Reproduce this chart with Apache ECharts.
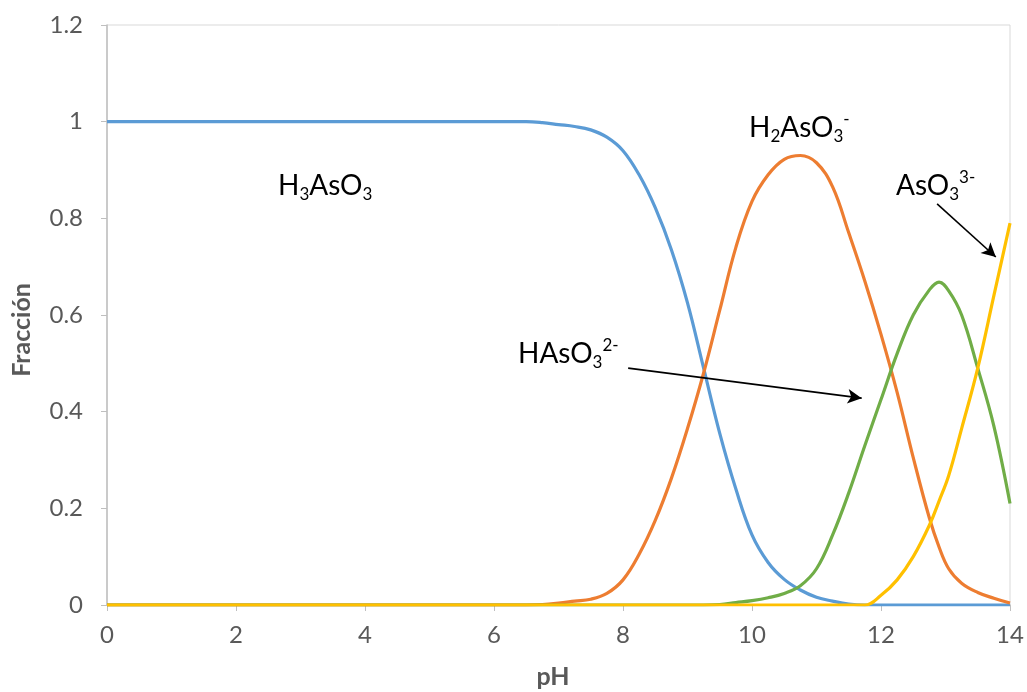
<!DOCTYPE html>
<html>
<head>
<meta charset="utf-8">
<script src="https://cdn.jsdelivr.net/npm/echarts@6/dist/echarts.min.js"></script>
<style>
  html, body { margin: 0; padding: 0; background: #fff; }
  #chart { width: 1027px; height: 692px; }
</style>
</head>
<body>
<div id="chart"></div>
<script>
// Speciation of arsenous acid vs pH
const pH = [0, 1, 2, 3, 4, 5, 6, 6.5, 6.75, 7, 7.25, 7.5, 7.75, 8, 8.25, 8.5, 8.75, 9, 9.25, 9.5,
            9.75, 10, 10.25, 10.5, 10.75, 11, 11.25, 11.5, 11.75, 12, 12.25, 12.5, 12.75, 12.9, 13.05, 13.25, 13.5, 13.75, 14];

const fH3AsO3 = [1, 1, 1, 1, 1, 1, 1, 1, 0.998, 0.994, 0.99, 0.983, 0.968, 0.94, 0.89, 0.822, 0.735, 0.625, 0.49, 0.355,
                 0.24, 0.145, 0.088, 0.053, 0.031, 0.016, 0.008, 0.002, 0, 0, 0, 0, 0, 0, 0, 0, 0, 0, 0];

const fH2AsO3 = [0, 0, 0, 0, 0, 0, 0, 0, 0.001, 0.004, 0.008, 0.012, 0.024, 0.052, 0.105, 0.175, 0.262, 0.365, 0.48, 0.61,
                 0.74, 0.835, 0.89, 0.922, 0.93, 0.915, 0.865, 0.77, 0.67, 0.56, 0.44, 0.305, 0.18, 0.12, 0.075, 0.045, 0.026, 0.014, 0.004];

const fHAsO3 = [0, 0, 0, 0, 0, 0, 0, 0, 0, 0, 0, 0, 0, 0, 0, 0, 0, 0, 0, 0.001,
                0.005, 0.009, 0.015, 0.024, 0.04, 0.075, 0.145, 0.232, 0.33, 0.425, 0.52, 0.6, 0.652, 0.668, 0.65, 0.6, 0.49, 0.37, 0.21];

const fAsO3 = [0, 0, 0, 0, 0, 0, 0, 0, 0, 0, 0, 0, 0, 0, 0, 0, 0, 0, 0, 0,
               0, 0, 0, 0, 0, 0, 0, 0, 0, 0.02, 0.052, 0.1, 0.165, 0.215, 0.268, 0.365, 0.49, 0.64, 0.79];

const xTicks = { min: 0, max: 14, interval: 2 };
const yTicks = { min: 0, max: 1.2, interval: 0.2 };

// Arrow pointers [from, to] in (pH, fraction)
const arrowHAsO3 = [[8.08, 0.49], [11.7, 0.428]];
const arrowAsO3 = [[12.87, 0.83], [13.78, 0.72]];

const colors = ['#5B9BD5', '#ED7D31', '#70AD47', '#FFC000'];
const FONT = 'Lato, "Open Sans", sans-serif';
const pairs = arr => pH.map((x, i) => [x, arr[i]]);

const richStyles = {
  m: { fontFamily: FONT, fontSize: 28, lineHeight: 34, color: '#000', verticalAlign: 'middle' },
  sub: { fontFamily: FONT, fontSize: 17, lineHeight: 17, color: '#000', verticalAlign: 'bottom' },
  sup: { fontFamily: FONT, fontSize: 17, lineHeight: 18, color: '#000', verticalAlign: 'top' }
};

function speciesLabel(text, x, y) {
  return {
    type: 'text', x: x, y: y, silent: true,
    style: { text: text, align: 'left', verticalAlign: 'middle', rich: richStyles,
             fontFamily: FONT, fontSize: 28, fill: '#000' }
  };
}

function lineSeries(name, data, color, z) {
  return {
    name: name, type: 'line', data: pairs(data), smooth: 0.4, symbol: 'none', z: z,
    lineStyle: { color: color, width: 3.2 }, itemStyle: { color: color }
  };
}

const chart = echarts.init(document.getElementById('chart'), null, { renderer: 'canvas' });

const series = [
  lineSeries('H3AsO3', fH3AsO3, colors[0], 2),
  lineSeries('H2AsO3-', fH2AsO3, colors[1], 3),
  lineSeries('HAsO3 2-', fHAsO3, colors[2], 4),
  lineSeries('AsO3 3-', fAsO3, colors[3], 5)
];
series[3].markLine = {
  silent: true, symbol: ['none', 'arrow'], symbolSize: [11, 14], animation: false,
  label: { show: false },
  lineStyle: { color: '#000', width: 1.6, type: 'solid' },
  data: [
    [{ coord: arrowHAsO3[0] }, { coord: arrowHAsO3[1] }],
    [{ coord: arrowAsO3[0] }, { coord: arrowAsO3[1] }]
  ]
};

chart.setOption({
  animation: false,
  backgroundColor: '#fff',
  grid: { left: 107, right: 17, top: 25, bottom: 87, show: true, borderColor: '#D9D9D9', borderWidth: 1 },
  xAxis: {
    type: 'value', min: xTicks.min, max: xTicks.max, interval: xTicks.interval,
    axisLine: { show: true, lineStyle: { color: '#BFBFBF', width: 1.5 } },
    axisTick: { show: true, length: 6, lineStyle: { color: '#BFBFBF' } },
    splitLine: { show: false },
    axisLabel: { color: '#595959', fontFamily: FONT, fontSize: 24, margin: 18 }
  },
  yAxis: {
    type: 'value', min: yTicks.min, max: yTicks.max, interval: yTicks.interval,
    axisLine: { show: true, lineStyle: { color: '#BFBFBF', width: 1.5 } },
    axisTick: { show: true, length: 6, lineStyle: { color: '#BFBFBF' } },
    splitLine: { show: false },
    axisLabel: { color: '#595959', fontFamily: FONT, fontSize: 24, margin: 24 }
  },
  graphic: [
    { type: 'text', x: 22, y: 330, rotation: Math.PI / 2, silent: true,
      style: { text: 'Fracción', align: 'center', verticalAlign: 'middle', fill: '#595959',
               fontFamily: FONT, fontSize: 25, fontWeight: 'bold' } },
    { type: 'text', x: 553, y: 677, silent: true,
      style: { text: 'pH', align: 'center', verticalAlign: 'middle', fill: '#595959',
               fontFamily: FONT, fontSize: 25, fontWeight: 'bold' } },
    speciesLabel('{m|H}{sub|3}{m|AsO}{sub|3}', 278, 186),
    speciesLabel('{m|H}{sub|2}{m|AsO}{sub|3}{sup|-}', 749, 128),
    speciesLabel('{m|AsO}{sub|3}{sup|3-}', 896, 186),
    speciesLabel('{m|HAsO}{sub|3}{sup|2-}', 518, 354)
  ],
  series: series
});
</script>
</body>
</html>
